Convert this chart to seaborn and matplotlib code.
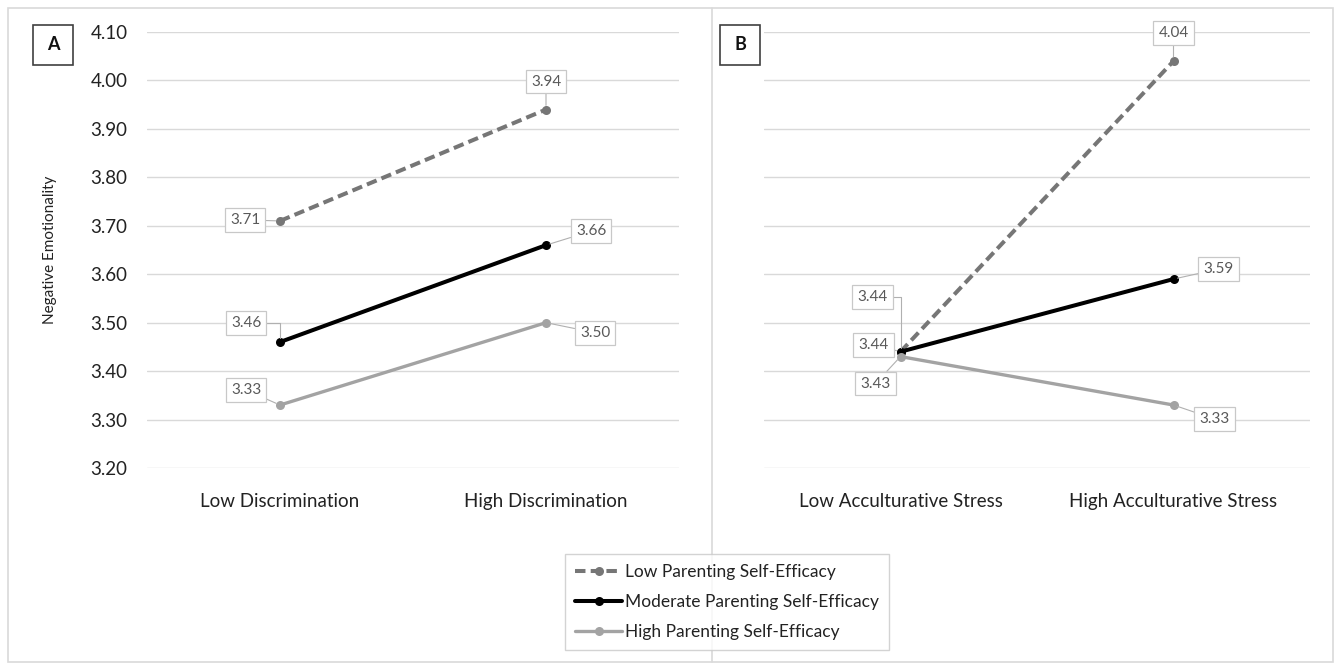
import matplotlib
matplotlib.use("Agg")
import matplotlib.pyplot as plt
from matplotlib.patches import Rectangle
from matplotlib.lines import Line2D
import pandas as pd
import seaborn as sns

# Data
groups = [
    "Low Parenting Self-Efficacy",
    "Moderate Parenting Self-Efficacy",
    "High Parenting Self-Efficacy",
]
levels_a = ["Low Discrimination", "High Discrimination"]
levels_b = ["Low Acculturative Stress", "High Acculturative Stress"]
values_a = {
    "Low Parenting Self-Efficacy": [3.71, 3.94],
    "Moderate Parenting Self-Efficacy": [3.46, 3.66],
    "High Parenting Self-Efficacy": [3.33, 3.50],
}
values_b = {
    "Low Parenting Self-Efficacy": [3.44, 4.04],
    "Moderate Parenting Self-Efficacy": [3.44, 3.59],
    "High Parenting Self-Efficacy": [3.43, 3.33],
}
y_ticks = [3.20, 3.30, 3.40, 3.50, 3.60, 3.70, 3.80, 3.90, 4.00, 4.10]

# Styles
styles = {
    "Low Parenting Self-Efficacy": dict(color="#767676", lw=2.9, dashes=(2.6, 1.3)),
    "Moderate Parenting Self-Efficacy": dict(color="#000000", lw=2.9, dashes=None),
    "High Parenting Self-Efficacy": dict(color="#a3a3a3", lw=2.4, dashes=None),
}

# label offsets in pixels (low point, high point)
offsets_a = {
    "Low Parenting Self-Efficacy": [(-35, 1), (0, 28)],
    "Moderate Parenting Self-Efficacy": [(-34, 19), (45, 14)],
    "High Parenting Self-Efficacy": [(-34, 15), (49, -10)],
}
offsets_b = {
    "Low Parenting Self-Efficacy": [(-28, 55), (0, 28)],
    "Moderate Parenting Self-Efficacy": [(-27, 7), (45, 10)],
    "High Parenting Self-Efficacy": [(-25, -27), (41, -14)],
}
elbow = "angle,angleA=0,angleB=90,rad=0"
conn_a = {
    "Low Parenting Self-Efficacy": ["arc3", "arc3"],
    "Moderate Parenting Self-Efficacy": [elbow, "arc3"],
    "High Parenting Self-Efficacy": ["arc3", "arc3"],
}
conn_b = {
    "Low Parenting Self-Efficacy": [elbow, "arc3"],
    "Moderate Parenting Self-Efficacy": ["arc3", "arc3"],
    "High Parenting Self-Efficacy": ["arc3", "arc3"],
}


def make_df(levels, values):
    rows = []
    for g in groups:
        for lvl, v in zip(levels, values[g]):
            rows.append({"level": lvl, "value": v, "group": g})
    return pd.DataFrame(rows)


sns.set_theme(style="whitegrid")
plt.rcParams["font.family"] = ["Lato", "DejaVu Sans"]

fig = plt.figure(figsize=(13.44, 6.69), dpi=100)
W, H = 1344, 669
ax_a = fig.add_axes([147 / W, 1 - 468 / H, 532 / W, 436 / H])
ax_b = fig.add_axes([764 / W, 1 - 468 / H, 546 / W, 436 / H])


def draw_panel(ax, levels, values, offsets, conns, show_y):
    df = make_df(levels, values)
    for g in groups:
        st = styles[g]
        sub = df[df["group"] == g]
        sns.lineplot(
            data=sub, x="level", y="value", ax=ax, color=st["color"],
            lw=st["lw"], marker="o", markersize=6.5, markeredgewidth=0,
            label=g, legend=False, clip_on=False, sort=False,
        )
        line = ax.lines[-1]
        if st["dashes"]:
            line.set_dashes(st["dashes"])
        for i, (lvl, v) in enumerate(zip(levels, values[g])):
            ax.annotate(
                f"{v:.2f}", xy=(i, v), xytext=offsets[g][i],
                textcoords="offset pixels", ha="center", va="center",
                fontsize=11, color="#595959",
                bbox=dict(boxstyle="square,pad=0.32", fc="white",
                          ec="#c8c8c8", lw=0.9),
                arrowprops=dict(arrowstyle="-", color="#b0b0b0", lw=0.8,
                                shrinkA=0, shrinkB=3,
                                connectionstyle=conns[g][i]),
                annotation_clip=False, zorder=5,
            )
    ax.set_xlim(-0.5, 1.5)
    ax.set_ylim(3.20, 4.10)
    ax.set_yticks(y_ticks)
    if show_y:
        ax.set_yticklabels([f"{t:.2f}" for t in y_ticks], fontsize=13.5,
                           color="#222222")
        ax.set_ylabel("Negative Emotionality", fontsize=11,
                      color="#222222", labelpad=24)
    else:
        ax.set_yticklabels([])
        ax.set_ylabel("")
    ax.set_xlabel("")
    ax.tick_params(axis="x", labelsize=13.5, colors="#222222", pad=12)
    ax.tick_params(axis="y", pad=8)
    ax.grid(axis="y", color="#d9d9d9", lw=1)
    ax.grid(axis="x", visible=False)
    for s in ax.spines.values():
        s.set_visible(False)
    ax.set_facecolor("none")


draw_panel(ax_a, levels_a, values_a, offsets_a, conn_a, True)
draw_panel(ax_b, levels_b, values_b, offsets_b, conn_b, False)

# outer frame and divider
fig.add_artist(Rectangle((8 / W, 1 - 662 / H), 1325 / W, 654 / H,
                         transform=fig.transFigure, fill=False,
                         ec="#d9d9d9", lw=1.2))
fig.add_artist(Line2D([712 / W, 712 / W], [1 - 662 / H, 1 - 8 / H],
                      transform=fig.transFigure, color="#d9d9d9", lw=1.2))

# panel letters
for letter, x0 in [("A", 33), ("B", 720)]:
    fig.add_artist(Rectangle((x0 / W, 1 - 65 / H), 40 / W, 40 / H,
                             transform=fig.transFigure, fill=True, fc="white",
                             ec="#404040", lw=1.2))
    fig.text((x0 + 20) / W, 1 - 45 / H, letter, ha="center", va="center",
             fontsize=13, fontweight="bold", color="#111111")

handles = ax_a.lines[:3]
leg = fig.legend(handles, groups, loc="center", bbox_to_anchor=(727 / W, 1 - 602 / H),
                 fontsize=12.5, frameon=True, fancybox=False, handlelength=2.7,
                 handletextpad=0.15, labelspacing=0.8, borderpad=0.6,
                 borderaxespad=0)
leg.get_frame().set_edgecolor("#c8c8c8")
leg.get_frame().set_linewidth(1)
for t in leg.get_texts():
    t.set_color("#222222")

fig.savefig("out.png", dpi=100)
